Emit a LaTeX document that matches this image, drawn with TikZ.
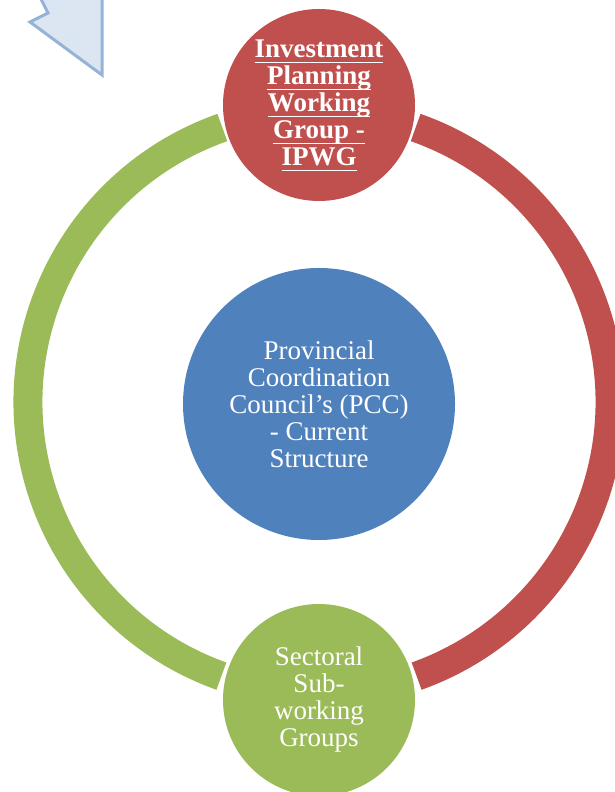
\documentclass[tikz,border=0pt]{standalone}
\usepackage{fontspec}
\setmainfont{Liberation Serif}
\newcommand{\ulword}[1]{\underline{\smash{#1}\vrule width 0pt height 18pt depth 3pt}}
\definecolor{ipwgred}{HTML}{C0504D}
\definecolor{ssggreen}{HTML}{9BBB59}
\definecolor{pccblue}{HTML}{4F81BD}
\definecolor{arrowfill}{HTML}{DCE6F2}
\definecolor{arrowline}{HTML}{95B3D7}
\tikzset{
	cyclenode/.style={circle,text=white,align=center,inner sep=0pt,font=\fontsize{27}{27}\selectfont},
	ringarc/.style={line width=29pt,line cap=butt},
}

\begin{document}
\begin{tikzpicture}[x=1pt,y=1pt]
	\useasboundingbox (0,0) rectangle (615,792);
	\clip (0,0) rectangle (615,792);
	\coordinate (ring) at (319,390);
	\draw[arrowline,fill=arrowfill,line width=3pt,line join=miter]
		(102,717) -- (102,806) -- (84,797) -- (39,886) -- (3,868) -- (48,779) -- (30,770) -- cycle;
	\draw[ringarc,ipwgred] ([shift={(70.6:291)}]ring) arc[start angle=70.6,end angle=-70.4,radius=291];
	\draw[ringarc,ssggreen] ([shift={(109.4:291)}]ring) arc[start angle=109.4,end angle=250.4,radius=291];
	\node[cyclenode,fill=pccblue,minimum size=272pt] (pcc) at ([yshift=-2]ring)
		{Provincial\\Coordination\\Council’s (PCC)\\- Current\\Structure};
	\node[cyclenode,fill=ipwgred,minimum size=192pt,font=\fontsize{27}{27}\selectfont\bfseries] (ipwg) at ([yshift=297]ring)
		{\ulword{Investment}\\\ulword{Planning}\\\ulword{Working}\\\ulword{Group -}\\\ulword{IPWG}};
	\node[cyclenode,fill=ssggreen,minimum size=192pt] (ssg) at ([yshift=-298]ring)
		{Sectoral\\Sub-\\working\\Groups};
\end{tikzpicture}
\end{document}
